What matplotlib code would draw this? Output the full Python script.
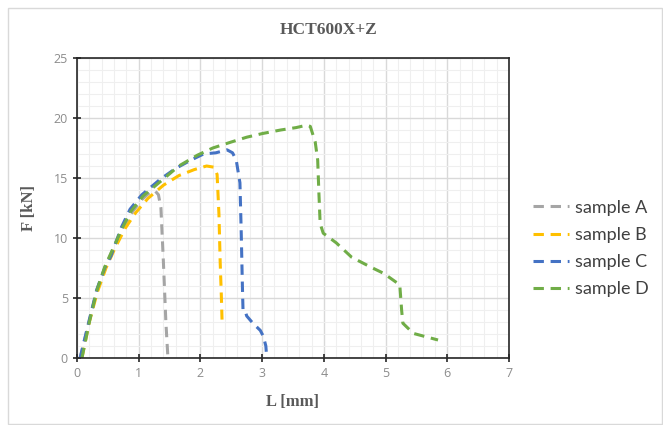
import numpy as np
import matplotlib.pyplot as plt
from matplotlib.ticker import MultipleLocator
from matplotlib.patches import Rectangle

# force / elongation readings for each sample
a_L = [0.05, 0.2, 0.32, 0.45, 0.6, 0.75, 0.9, 1.05, 1.18, 1.27, 1.32, 1.36, 1.40, 1.44, 1.47]
a_F = [0, 3.1, 5.6, 7.5, 9.3, 10.9, 12.2, 13.2, 13.8, 13.9, 13.6, 12.5, 8.0, 3.0, 0.3]

b_L = [0.08, 0.2, 0.33, 0.47, 0.62, 0.78, 0.95, 1.15, 1.4, 1.65, 1.9, 2.1, 2.22, 2.27, 2.30, 2.32, 2.34, 2.35]
b_F = [0, 3.0, 5.5, 7.5, 9.2, 10.8, 12.1, 13.3, 14.4, 15.2, 15.7, 16.0, 15.9, 15.3, 12.0, 8.0, 5.0, 3.2]

c_L = [0.05, 0.2, 0.32, 0.45, 0.55, 0.62, 0.72, 0.86, 1.05, 1.35, 1.6, 1.85, 2.05, 2.25, 2.43,
       2.52, 2.58, 2.64, 2.66, 2.68, 2.69, 2.72, 2.75, 2.85, 2.97, 3.02, 3.06, 3.07]
c_F = [0, 3.2, 5.7, 7.5, 8.5, 9.5, 10.9, 12.4, 13.6, 14.9, 15.8, 16.5, 17.0, 17.1, 17.35,
       17.1, 16.5, 14.6, 10.7, 6.0, 4.0, 4.0, 3.5, 2.9, 2.3, 1.8, 1.0, 0.3]

d_L = [0.08, 0.2, 0.32, 0.45, 0.6, 0.73, 0.87, 1.07, 1.35, 1.65, 1.95, 2.2, 2.5, 2.75, 3.0, 3.3,
       3.55, 3.72, 3.78, 3.86, 3.90, 3.92, 3.94, 3.99, 4.2, 4.45, 4.75, 4.97, 5.23, 5.26, 5.28,
       5.45, 5.85]
d_F = [0, 3.0, 5.6, 7.6, 9.3, 10.8, 12.2, 13.5, 14.7, 16.0, 16.9, 17.5, 18.0, 18.4, 18.7, 19.0,
       19.2, 19.4, 19.3, 18.0, 16.5, 13.7, 11.2, 10.4, 9.6, 8.4, 7.6, 7.05, 6.1, 4.0, 2.9,
       2.05, 1.5]

labels = ['sample A', 'sample B', 'sample C', 'sample D']
colors = ['#A5A5A5', '#FFC000', '#4472C4', '#70AD47']

fig = plt.figure(figsize=(6.63, 4.25), dpi=100)
fig.patches.append(Rectangle((8/663, 0.002), 654/663, 1 - 8/425 - 0.002, transform=fig.transFigure,
                             fill=False, edgecolor='#d9d9d9', linewidth=1))
ax = fig.add_axes([77/663, 1 - 358/425, 432/663, 300/425])

for L, F, lab, col in zip([a_L, b_L, c_L, d_L], [a_F, b_F, c_F, d_F], labels, colors):
    ax.plot(L, F, color=col, linewidth=2.2, linestyle=(0, (3.4, 2.2)), label=lab,
            solid_capstyle='butt', dash_capstyle='butt')

ax.set_xlim(0, 7)
ax.set_ylim(0, 25)
ax.xaxis.set_major_locator(MultipleLocator(1))
ax.xaxis.set_minor_locator(MultipleLocator(0.2))
ax.yaxis.set_major_locator(MultipleLocator(5))
ax.yaxis.set_minor_locator(MultipleLocator(1))
ax.grid(which='major', color='#d9d9d9', linewidth=1)
ax.grid(which='minor', color='#efefef', linewidth=0.8)
ax.set_axisbelow(True)
for s in ax.spines.values():
    s.set_color('#262626')
    s.set_linewidth(1.2)
ax.tick_params(which='major', direction='inout', length=6, width=1.2, color='#262626',
               labelcolor='#8c8c8c', labelsize=9)
ax.tick_params(which='minor', length=0)
for t in ax.get_xticklabels() + ax.get_yticklabels():
    t.set_family('Open Sans')

serif = dict(family='Liberation Serif', fontweight='bold', color='#595959', fontsize=12)
fig.text(329/663, 1 - 30/425, 'HCT600X+Z', ha='center', va='center',
         **dict(serif, fontsize=12.5))
ax.set_xlabel('L [mm]', labelpad=10, **serif)
ax.set_ylabel('F [kN]', labelpad=12, **serif)

leg = ax.legend(loc='center left', bbox_to_anchor=(1.035, 0.365), frameon=False,
                prop={'family': 'Lato', 'size': 13}, handlelength=2.0,
                handletextpad=0.3, labelspacing=0.62, borderpad=0)
for t in leg.get_texts():
    t.set_color('#404040')

fig.savefig('out.png', dpi=100)
